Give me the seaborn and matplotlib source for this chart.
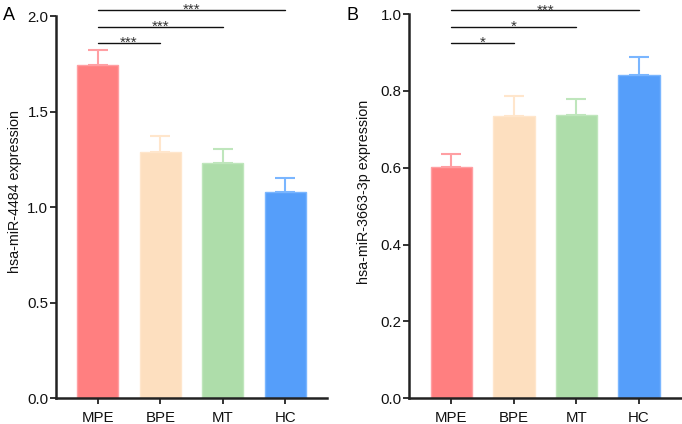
import matplotlib
matplotlib.use("Agg")
import matplotlib.pyplot as plt
import seaborn as sns
import pandas as pd

groups = ["MPE", "BPE", "MT", "HC"]
mean_a = [1.745, 1.288, 1.230, 1.078]
upper_a = [1.824, 1.373, 1.302, 1.150]
mean_b = [0.601, 0.735, 0.737, 0.840]
upper_b = [0.636, 0.787, 0.780, 0.889]
ylabel_a = "hsa-miR-4484 expression"
ylabel_b = "hsa-miR-3663-3p expression"
ticks_a = [0.0, 0.5, 1.0, 1.5, 2.0]
ticks_b = [0.0, 0.2, 0.4, 0.6, 0.8, 1.0]
# significance brackets: (start group, end group, y level, label)
sig_a = [(0, 1, 1.860, "***"), (0, 2, 1.944, "***"), (0, 3, 2.031, "***")]
sig_b = [(0, 1, 0.925, "*"), (0, 2, 0.966, "*"), (0, 3, 1.010, "***")]

bar_colors = ["#FF7F80", "#FDDFBF", "#AEDDAA", "#559EFA"]
edge_colors = ["#FF9FA3", "#FFE6CC", "#BFE6BC", "#7AB6FF"]

sns.set_theme(style="ticks")
plt.rcParams["font.family"] = ["Liberation Sans", "DejaVu Sans"]

fig = plt.figure(figsize=(6.82, 4.24), dpi=100)
W, H = 682, 424


def panel(rect, means, uppers, ticks, ylabel, label_xy, sigs, letter, letter_xy):
    x0, ytop, x1, ybot = rect
    ax = fig.add_axes([x0 / W, (H - ybot) / H, (x1 - x0) / W, (ybot - ytop) / H])
    df = pd.DataFrame({"group": groups, "value": means})
    sns.barplot(data=df, x="group", y="value", hue="group", palette=bar_colors,
                width=0.66, errorbar=None, legend=False, ax=ax, saturation=1)
    for p, ec in zip(ax.patches, edge_colors):
        p.set_edgecolor(ec)
        p.set_linewidth(1.0)
    for i, (m, u) in enumerate(zip(means, uppers)):
        ax.errorbar(i, m, yerr=[[0], [u - m]], fmt="none", ecolor=edge_colors[i],
                    elinewidth=1.5, capsize=7.5, capthick=1.5, zorder=1)
    ax.set_ylim(0, ticks[-1])
    ax.set_yticks(ticks)
    ax.set_yticklabels([f"{t:.1f}" for t in ticks])
    ax.set_xlim(-0.67, 3.67)
    ax.set_xlabel("")
    ax.set_ylabel(ylabel, fontsize=10.3, color="#111111")
    ax.yaxis.set_label_coords(*label_xy)
    ax.tick_params(axis="both", labelsize=10.8, colors="#222222", length=4, width=1.3,
                   labelcolor="#111111")
    ax.tick_params(axis="y", pad=1.5)
    ax.tick_params(axis="x", pad=5)
    sns.despine(ax=ax)
    for s in ("left", "bottom"):
        ax.spines[s].set_linewidth(1.8)
        ax.spines[s].set_color("#222222")
    for a, b, y, lab in sigs:
        ax.plot([a, b], [y, y], color="#111111", lw=1.0, clip_on=False)
        ax.annotate(lab, xy=((a + b) / 2, y), xytext=(0, -3), textcoords="offset points",
                    ha="center", va="baseline", fontsize=11, color="#333333",
                    annotation_clip=False)
    fig.text(letter_xy[0] / W, 1 - letter_xy[1] / H, letter, fontsize=13,
             ha="left", va="center", color="#000000")
    return ax


panel((56, 16, 327, 398.3), mean_a, upper_a, ticks_a, ylabel_a, (-0.125, 0.542),
      sig_a, "A", (3, 16))
panel((409.3, 14, 681, 398.3), mean_b, upper_b, ticks_b, ylabel_b, (-0.141, 0.538),
      sig_b, "B", (346, 15))

fig.savefig("out.png", dpi=100)
